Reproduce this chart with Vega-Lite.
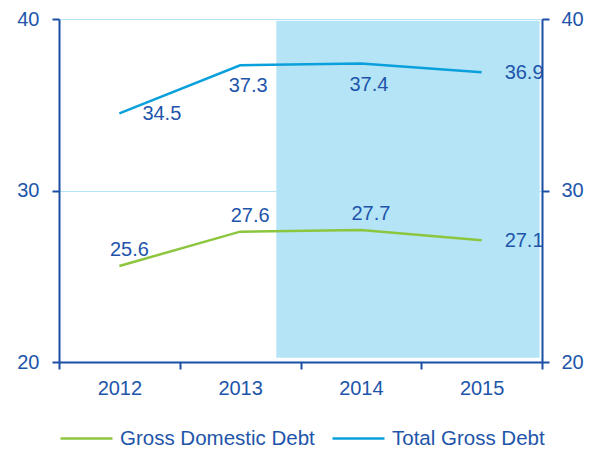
{
  "$schema": "https://vega.github.io/schema/vega-lite/v6.json",
  "width": 483,
  "height": 343,
  "padding": {"left": 16, "top": 9, "right": 5, "bottom": 5},
  "config": {
    "view": {"stroke": null},
    "font": "Liberation Sans",
    "axis": {
      "domainColor": "#1a4fa5",
      "domainWidth": 2,
      "tickColor": "#1a4fa5",
      "tickWidth": 2,
      "tickSize": 7,
      "labelColor": "#1e55aa",
      "labelFontSize": 20,
      "labelFont": "Liberation Sans",
      "title": null,
      "grid": false
    }
  },
  "datasets": {
    "series": [
      {"year": 2012, "series": "Gross Domestic Debt", "value": 25.6},
      {"year": 2013, "series": "Gross Domestic Debt", "value": 27.6},
      {"year": 2014, "series": "Gross Domestic Debt", "value": 27.7},
      {"year": 2015, "series": "Gross Domestic Debt", "value": 27.1},
      {"year": 2012, "series": "Total Gross Debt", "value": 34.5},
      {"year": 2013, "series": "Total Gross Debt", "value": 37.3},
      {"year": 2014, "series": "Total Gross Debt", "value": 37.4},
      {"year": 2015, "series": "Total Gross Debt", "value": 36.9}
    ],
    "shade": [{"start": 2013.3, "end": 2015.48, "low": 20.25, "high": 39.9}]
  },
  "layer": [
    {
      "data": {"name": "shade"},
      "mark": {"type": "rect", "color": "#b4e4f6"},
      "encoding": {
        "x": {
          "field": "start", "type": "quantitative",
          "scale": {"domain": [2011.5, 2015.5], "nice": false, "zero": false},
          "axis": {"orient": "bottom", "values": [2012, 2013, 2014, 2015], "format": "d", "ticks": false, "labelPadding": 16}
        },
        "x2": {"field": "end"},
        "y": {
          "field": "low", "type": "quantitative",
          "scale": {"domain": [20, 40], "nice": false, "zero": false},
          "axis": {"orient": "left", "values": [20, 30, 40], "grid": true, "gridColor": "#b4e4f6", "gridWidth": 1, "labelPadding": 13}
        },
        "y2": {"field": "high"}
      }
    },
    {
      "data": {"name": "series"},
      "mark": {"type": "line", "strokeWidth": 2.5},
      "encoding": {
        "x": {
          "field": "year", "type": "quantitative",
          "axis": {"orient": "bottom", "values": [2011.5, 2012.5, 2013.5, 2014.5, 2015.5], "labels": false, "domain": false, "ticks": true}
        },
        "y": {
          "field": "value", "type": "quantitative",
          "axis": {"orient": "right", "values": [20, 30, 40], "labelPadding": 12}
        },
        "color": {
          "field": "series", "type": "nominal",
          "scale": {"domain": ["Gross Domestic Debt", "Total Gross Debt"], "range": ["#8cc63f", "#0aa0dc"]},
          "legend": {
            "title": null, "orient": "bottom", "direction": "horizontal",
            "symbolType": "stroke", "symbolSize": 2700, "symbolStrokeWidth": 2.5,
            "labelFontSize": 20.5, "labelColor": "#1e55aa", "labelFont": "Liberation Sans", "labelLimit": 0,
            "labelOffset": 6, "columnPadding": 12, "offset": 13
          }
        }
      }
    },
    {
      "data": {"name": "series"},
      "transform": [{"filter": "(datum.series == 'Total Gross Debt' && (datum.year == 2013 || datum.year == 2014))"}],
      "mark": {"type": "text", "align": "center", "baseline": "middle", "dy": 21, "dx": 8, "fontSize": 20, "color": "#1e55aa"},
      "encoding": {
        "x": {"field": "year", "type": "quantitative", "axis": null},
        "y": {"field": "value", "type": "quantitative", "axis": null},
        "text": {"field": "value", "type": "quantitative", "format": ".1f"}
      }
    },
    {
      "data": {"name": "series"},
      "transform": [{"filter": "(datum.series == 'Total Gross Debt' && (datum.year == 2012 || datum.year == 2015)) || (datum.series == 'Gross Domestic Debt' && datum.year == 2015)"}],
      "mark": {"type": "text", "align": "left", "baseline": "middle", "dy": 1, "dx": 23, "fontSize": 20, "color": "#1e55aa"},
      "encoding": {
        "x": {"field": "year", "type": "quantitative", "axis": null},
        "y": {"field": "value", "type": "quantitative", "axis": null},
        "text": {"field": "value", "type": "quantitative", "format": ".1f"}
      }
    },
    {
      "data": {"name": "series"},
      "transform": [{"filter": "datum.series == 'Gross Domestic Debt' && datum.year != 2015"}],
      "mark": {"type": "text", "align": "center", "baseline": "middle", "dy": -16, "dx": 10, "fontSize": 20, "color": "#1e55aa"},
      "encoding": {
        "x": {"field": "year", "type": "quantitative", "axis": null},
        "y": {"field": "value", "type": "quantitative", "axis": null},
        "text": {"field": "value", "type": "quantitative", "format": ".1f"}
      }
    }
  ],
  "resolve": {
    "scale": {"x": "shared", "y": "shared"},
    "axis": {"x": "independent", "y": "independent"}
  }
}
